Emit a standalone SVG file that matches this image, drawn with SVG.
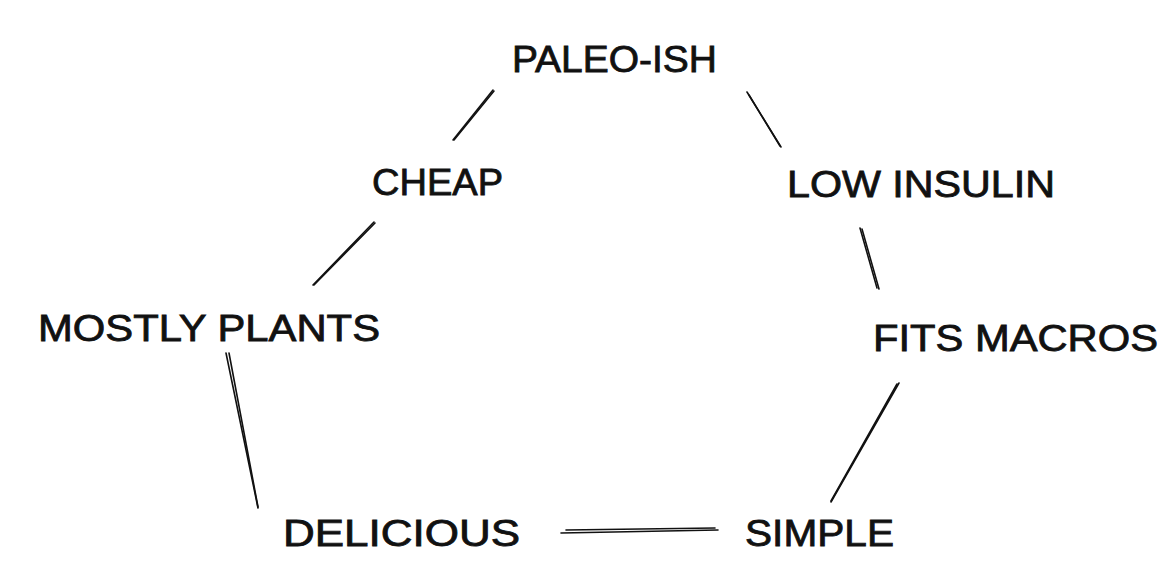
<svg xmlns="http://www.w3.org/2000/svg" width="1172" height="573" viewBox="0 0 1172 573">
<style>
.t{font-family:"Liberation Sans","DejaVu Sans",sans-serif;font-size:36px;fill:#111;stroke:#111;stroke-width:0.8;}
.c line{stroke:#111;stroke-width:1.6;stroke-linecap:round;fill:none;}
</style>
<rect width="1172" height="573" fill="#fff"/>
<g id="connectors" class="c">
  <line x1="493" y1="90" x2="453" y2="140"/>
  <line x1="494" y1="91" x2="454" y2="140"/>
  <line x1="747" y1="92" x2="781" y2="147"/>
  <line x1="749" y1="95" x2="780" y2="146"/>
  <line x1="374" y1="222" x2="313" y2="285"/>
  <line x1="375" y1="223" x2="314" y2="285"/>
  <line x1="860" y1="228" x2="877" y2="288"/>
  <line x1="862" y1="229" x2="879" y2="289"/>
  <line x1="226" y1="353" x2="258" y2="508"/>
  <line x1="229" y1="353" x2="258" y2="507"/>
  <line x1="899" y1="383" x2="831" y2="502"/>
  <line x1="897" y1="384" x2="831" y2="501"/>
  <line x1="561" y1="533" x2="718" y2="530"/>
  <line x1="566" y1="530" x2="715" y2="528"/>
</g>
<g id="paleo"><text class="t" x="512" y="72" textLength="205" lengthAdjust="spacingAndGlyphs">PALEO-ISH</text></g>
<g id="cheap"><text class="t" x="372" y="195" textLength="131" lengthAdjust="spacingAndGlyphs">CHEAP</text></g>
<g id="low-insulin"><text class="t" x="787" y="197" textLength="268" lengthAdjust="spacingAndGlyphs">LOW INSULIN</text></g>
<g id="mostly-plants"><text class="t" x="38" y="341" textLength="342" lengthAdjust="spacingAndGlyphs">MOSTLY PLANTS</text></g>
<g id="fits-macros"><text class="t" x="873" y="351" textLength="285" lengthAdjust="spacingAndGlyphs">FITS MACROS</text></g>
<g id="delicious"><text class="t" x="283" y="546" textLength="237" lengthAdjust="spacingAndGlyphs">DELICIOUS</text></g>
<g id="simple"><text class="t" x="745" y="546" textLength="149" lengthAdjust="spacingAndGlyphs">SIMPLE</text></g>
</svg>
